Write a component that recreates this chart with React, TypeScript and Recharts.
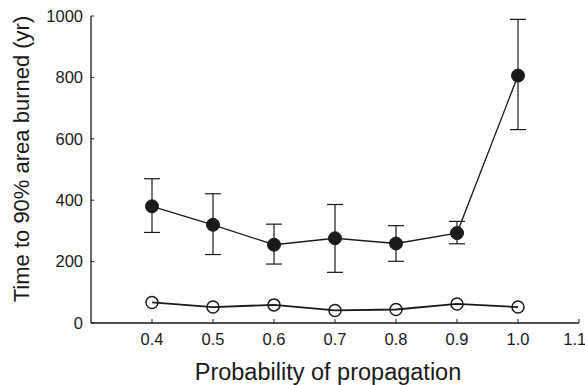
import React from "react";
import {
  ComposedChart,
  Line,
  XAxis,
  YAxis,
  ErrorBar,
  Label,
} from "recharts";

// probability of propagation
const probability = [0.4, 0.5, 0.6, 0.7, 0.8, 0.9, 1.0];
// filled circles: mean and error bar ends (yr)
const filledMean = [380, 320, 255, 276, 259, 293, 806];
const filledLow = [295, 223, 192, 165, 201, 258, 630];
const filledHigh = [470, 421, 322, 386, 317, 331, 989];
// open circles (yr)
const openMean = [67, 52, 59, 41, 44, 62, 52];

const xTicks = [0.4, 0.5, 0.6, 0.7, 0.8, 0.9, 1.0, 1.1];
const yTicks = [0, 200, 400, 600, 800, 1000];

const data = probability.map((p, i) => ({
  p,
  filled: filledMean[i],
  filledErr: [filledMean[i] - filledLow[i], filledHigh[i] - filledMean[i]],
  open: openMean[i],
}));

const FONT = "'Liberation Sans', Arial, Helvetica, sans-serif";
const INK = "#1a1a1a";

const FilledDot = (props: any) => {
  const { cx, cy } = props;
  return <circle cx={cx} cy={cy} r={6.5} fill={INK} stroke={INK} />;
};

const OpenDot = (props: any) => {
  const { cx, cy } = props;
  return <circle cx={cx} cy={cy} r={6} fill="none" stroke={INK} strokeWidth={1.5} />;
};

const App = () => {
  return (
    <div style={{ position: "absolute", left: 0, top: 0, background: "#fff" }}>
      <ComposedChart
        width={585}
        height={385}
        data={data}
        margin={{ top: 16, right: 6, bottom: 22, left: 0 }}
      >
        <XAxis
          dataKey="p"
          type="number"
          domain={[0.3, 1.1]}
          ticks={xTicks}
          tickFormatter={(v: number) => v.toFixed(1)}
          tickSize={-4}
          tickMargin={14}
          height={40}
          stroke={INK}
          tick={{ fill: INK, fontSize: 16.5, fontFamily: FONT }}
          axisLine={{ stroke: INK, strokeWidth: 1.3 }}
          tickLine={{ stroke: INK }}
          allowDataOverflow
        >
          <Label
            content={() => (
              <text
                x={328}
                y={380}
                textAnchor="middle"
                fontSize={23.5}
                fontFamily={FONT}
                fill={INK}
              >
                Probability of propagation
              </text>
            )}
          />
        </XAxis>
        <YAxis
          type="number"
          domain={[0, 1000]}
          ticks={yTicks}
          width={91}
          tickSize={-3}
          tickMargin={11}
          stroke={INK}
          tick={{ fill: INK, fontSize: 16.5, fontFamily: FONT }}
          axisLine={{ stroke: INK, strokeWidth: 1.3 }}
          tickLine={{ stroke: INK }}
        >
          <Label
            content={() => (
              <text
                x={0}
                y={0}
                transform="translate(29 159) rotate(-90)"
                textAnchor="middle"
                fontSize={22}
                fontFamily={FONT}
                fill={INK}
              >
                Time to 90% area burned (yr)
              </text>
            )}
          />
        </YAxis>
        <Line
          dataKey="filled"
          stroke={INK}
          strokeWidth={1.3}
          dot={<FilledDot />}
          activeDot={false}
          isAnimationActive={false}
        >
          <ErrorBar
            dataKey="filledErr"
            width={8}
            stroke={INK}
            strokeWidth={1.2}
            direction="y"
            isAnimationActive={false}
          />
        </Line>
        <Line
          dataKey="open"
          stroke={INK}
          strokeWidth={1.8}
          dot={<OpenDot />}
          activeDot={false}
          isAnimationActive={false}
        />
      </ComposedChart>
    </div>
  );
};

export default App;
